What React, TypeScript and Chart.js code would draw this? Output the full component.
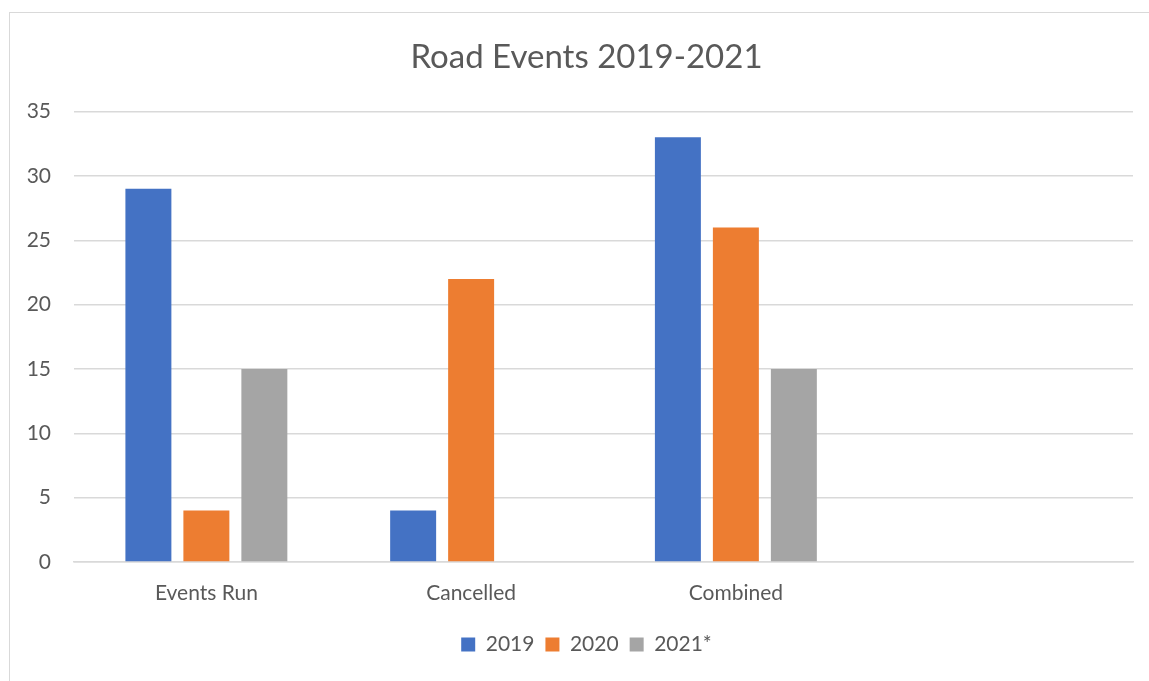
import React, { useEffect, useRef } from "react";
import { Chart, registerables } from "chart.js";

Chart.register(...registerables);

const categories = ["Events Run", "Cancelled", "Combined", ""];
const series2019 = [29, 4, 33, null];
const series2020 = [4, 22, 26, null];
const series2021 = [15, null, 15, null];
const seriesNames = ["2019", "2020", "2021*"];
const yTicks = [0, 5, 10, 15, 20, 25, 30, 35];

const FONT = "Lato, 'Open Sans', sans-serif";
const TEXT = "#595959";
const GRID = "#D9D9D9";

// widen the y-axis label clip box so tick labels can sit in the left padding
const widenYLabels = {
  id: "widenYLabels",
  afterLayout(chart: any) {
    const y = chart.scales.y;
    if (y) y.left = 10;
  },
};

export default function App() {
  const ref = useRef<HTMLCanvasElement | null>(null);

  useEffect(() => {
    if (!ref.current) return;
    const chart = new Chart(ref.current, {
      type: "bar",
      data: {
        labels: categories,
        datasets: [
          { label: seriesNames[0], data: series2019, backgroundColor: "#4472C4" },
          { label: seriesNames[1], data: series2020, backgroundColor: "#ED7D31" },
          { label: seriesNames[2], data: series2021, backgroundColor: "#A5A5A5" },
        ],
      },
      plugins: [widenYLabels],
      options: {
        animation: false,
        responsive: false,
        maintainAspectRatio: false,
        datasets: {
          bar: { categoryPercentage: 0.657, barPercentage: 0.793 },
        },
        layout: { padding: { left: 40, right: 16, top: 38, bottom: 16 } },
        plugins: {
          title: {
            display: true,
            text: "Road Events 2019-2021",
            color: TEXT,
            font: { family: FONT, size: 33, weight: "normal" },
            padding: { top: 0, bottom: 34 },
          },
          legend: {
            position: "bottom",
            labels: {
              color: TEXT,
              font: { family: FONT, size: 21 },
              boxWidth: 14,
              boxHeight: 14,
              padding: 11,
            },
          },
          tooltip: { enabled: false },
        },
        scales: {
          x: {
            grid: { display: false, drawTicks: false },
            border: { display: true, color: GRID, width: 1.5 },
            ticks: { color: TEXT, font: { family: FONT, size: 21 }, padding: 19 },
            afterFit: (s: any) => {
              s.height = 61;
            },
          },
          y: {
            min: 0,
            max: 35,
            afterBuildTicks: (s: any) => {
              s.ticks = yTicks.map((v) => ({ value: v }));
            },
            grid: { color: GRID, lineWidth: 1.5, drawTicks: false },
            border: { display: false },
            ticks: { color: TEXT, font: { family: FONT, size: 21 }, padding: 23 },
            afterFit: (s: any) => {
              s.width = 34;
            },
          },
        },
      },
    });
    return () => chart.destroy();
  }, []);

  return (
    <div style={{ position: "fixed", left: 0, top: 0, width: 1149, height: 681, background: "#fff", overflow: "hidden" }}>
      <div
        style={{
          position: "absolute",
          left: 9,
          top: 12,
          width: 1200,
          height: 800,
          border: "1.5px solid " + GRID,
        }}
      />
      <canvas ref={ref} width={1149} height={681} style={{ position: "absolute", left: 0, top: 0 }} />
    </div>
  );
}
